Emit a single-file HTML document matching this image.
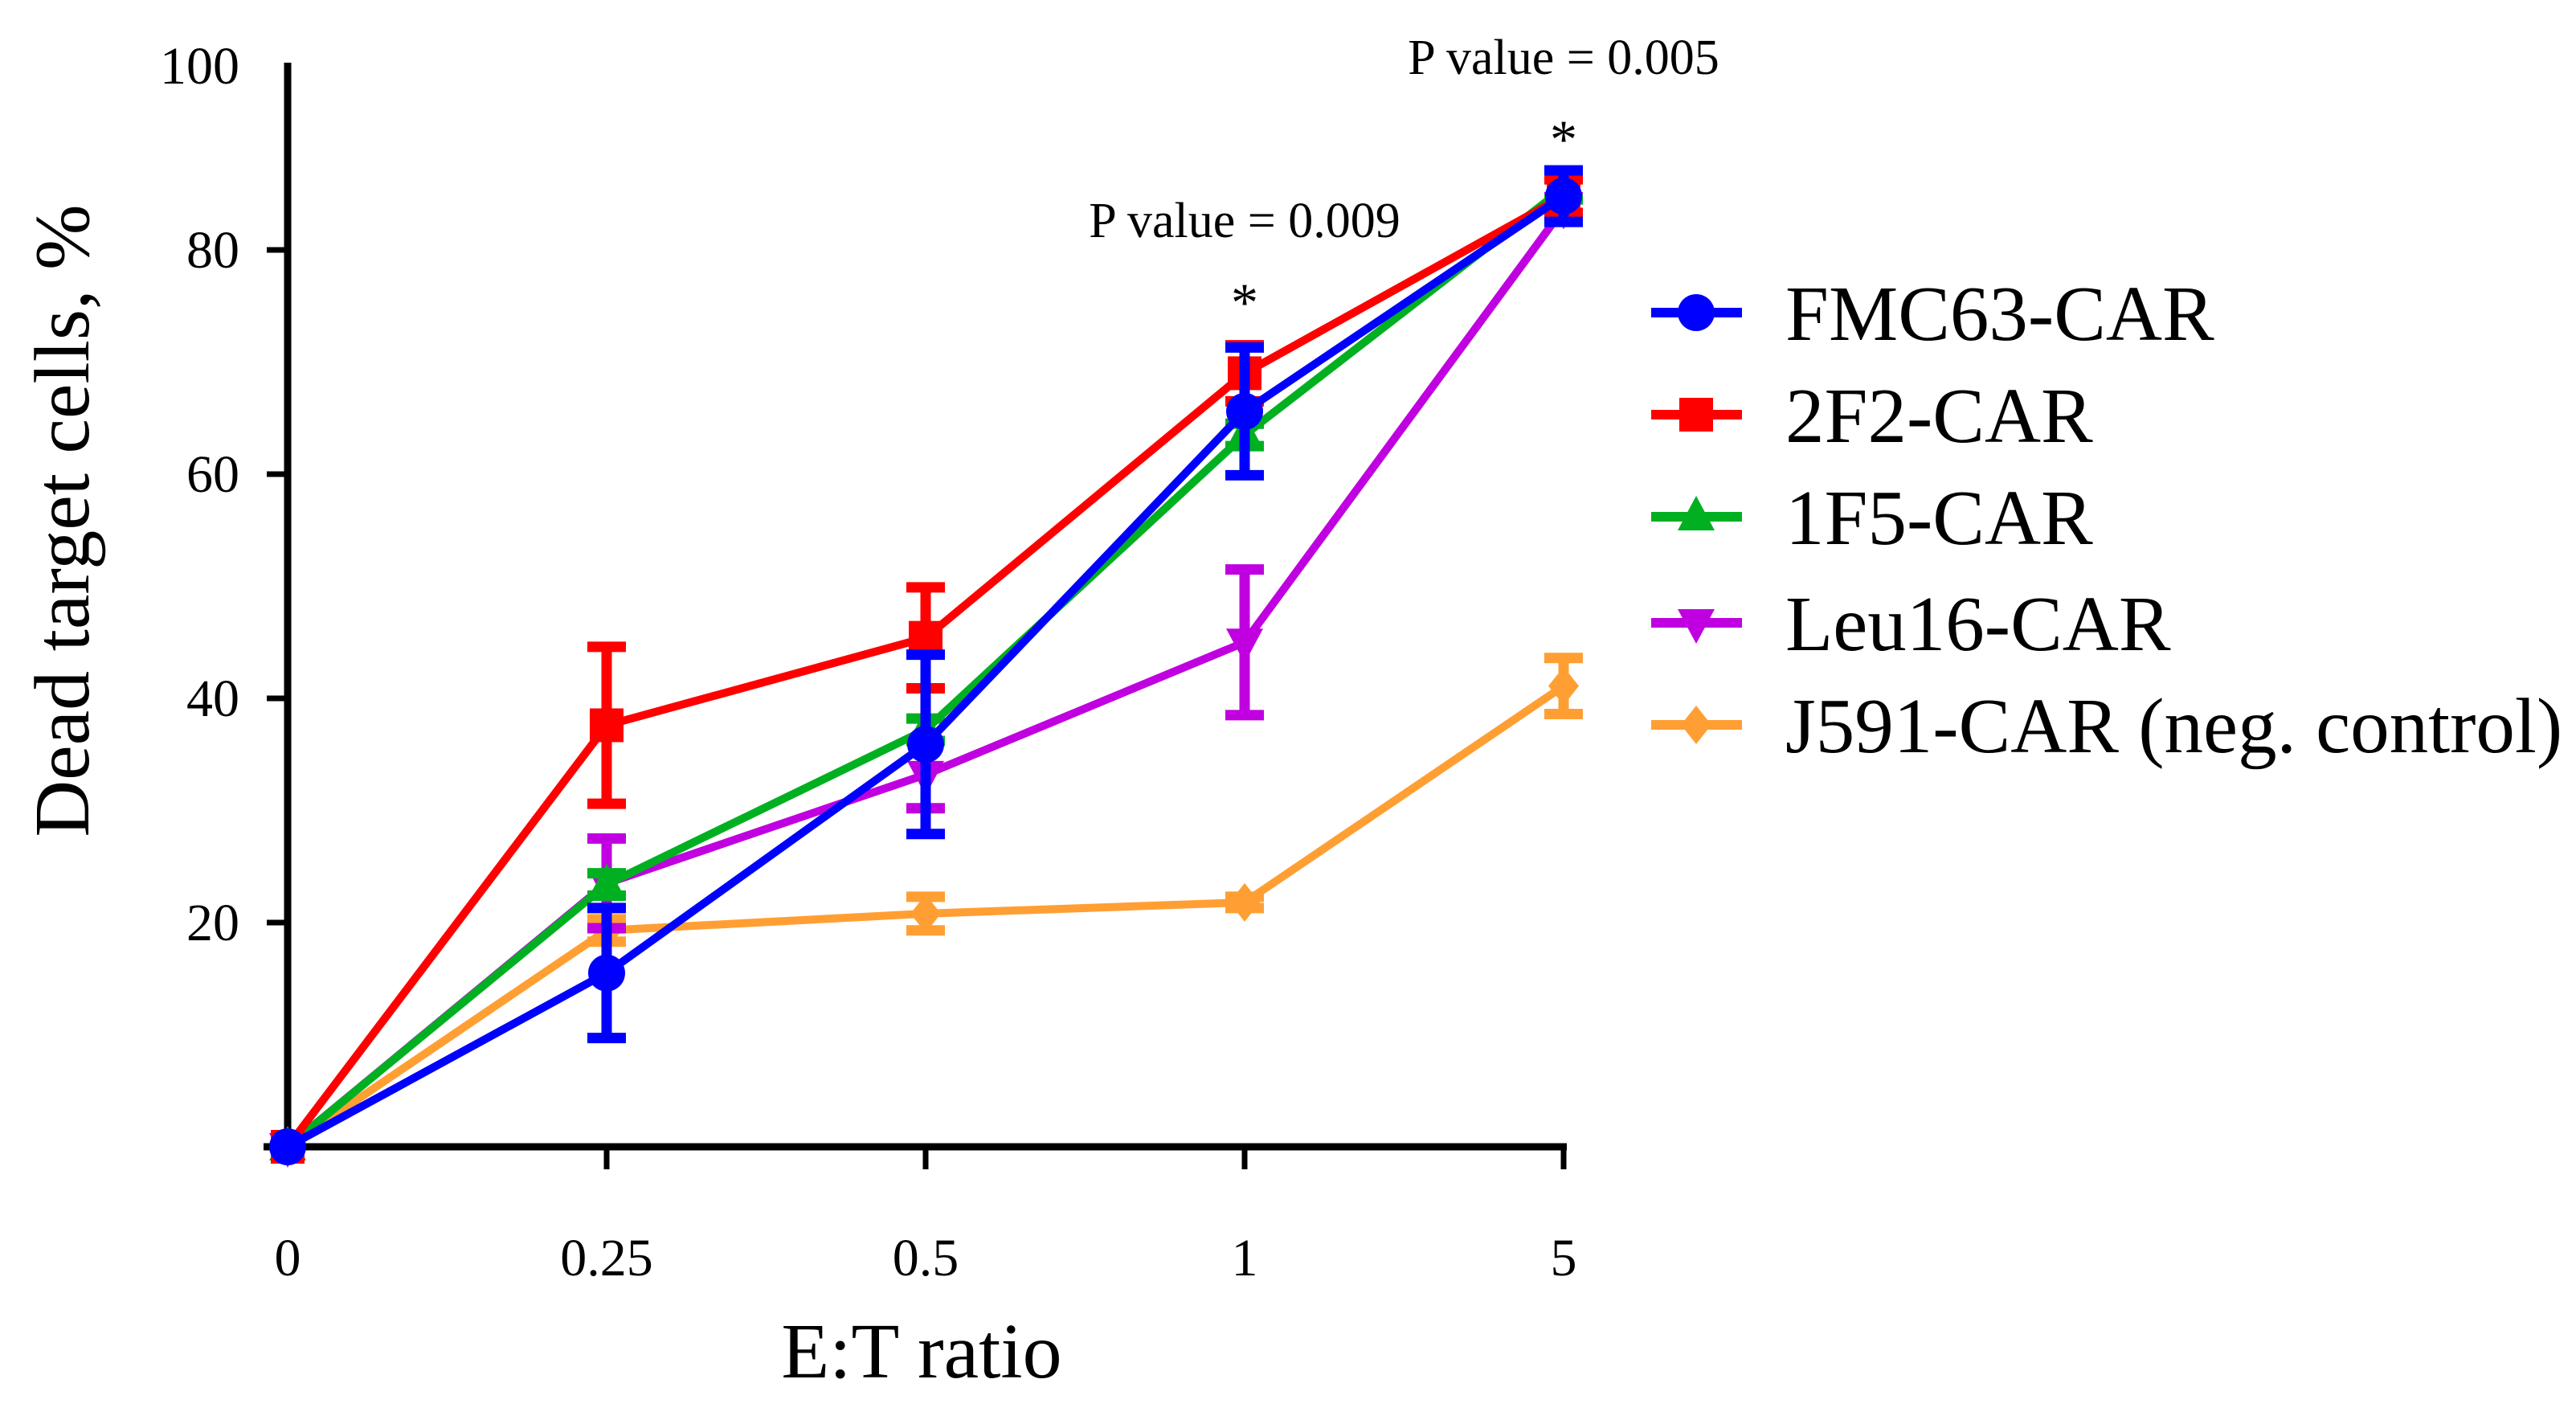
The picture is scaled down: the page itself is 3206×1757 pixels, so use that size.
<!DOCTYPE html>
<html><head><meta charset="utf-8"><style>
html,body{margin:0;padding:0;background:#fff}
svg{display:block;font-family:"Liberation Serif",serif}
</style></head><body>
<svg id="chart" width="3206" height="1757" viewBox="0 0 3206 1757">
<g id="plot"></g>
</svg>
<script>
const categories = ["0","0.25","0.5","1","5"];
const yTicks = [20,40,60,80];
const seriesNames = ["FMC63-CAR","2F2-CAR","1F5-CAR","Leu16-CAR","J591-CAR (neg. control)"];
const fmc63 = [0,15.5,35.9,65.6,84.8];
const fmc63Err = [0,5.8,8,5.7,2.3];
const f2f2 = [0,37.6,45.4,69,84.8];
const f2f2Err = [0,7,4.5,2.5,1.5];
const f1f5 = [0,23.4,37.2,63.5,85.5];
const f1f5Err = [0,1,1,1,1];
const leu16 = [0,23.5,33.2,45,83.7];
const leu16Err = [0,4,3,6.5,1];
const j591 = [0,19.3,20.8,21.8,41.1];
const j591Err = [0,1,1.5,0.5,2.5];

const NS="http://www.w3.org/2000/svg";
const svg=document.getElementById('chart');
const X0=358, DX=397, Y0=1427, PU=13.95;
function xs(i){return X0+i*DX;}
function ys(v){return Y0-v*PU;}
function mk(tag,attrs,parent){const e=document.createElementNS(NS,tag);for(const k in attrs)e.setAttribute(k,attrs[k]);(parent||svg).appendChild(e);return e;}

let ax=mk('line',{x1:X0,y1:78,x2:X0,y2:Y0,stroke:'#000','stroke-width':9});


let bx=mk('line',{x1:328,y1:Y0,x2:xs(4)+4,y2:Y0,stroke:'#000','stroke-width':9});


yTicks.forEach(v=>{
  let t=mk('line',{x1:332,y1:ys(v),x2:X0,y2:ys(v),stroke:'#000','stroke-width':7});
  
  
  let l=mk('text',{x:298,y:ys(v)+22,'text-anchor':'end','font-size':66});
  
  
  l.textContent=v;
});
let l100=mk('text',{x:298,y:104,'text-anchor':'end','font-size':66});


l100.textContent='100';
categories.forEach((c,i)=>{
  if(i>0){let t=mk('line',{x1:xs(i),y1:Y0,x2:xs(i),y2:Y0+28,stroke:'#000','stroke-width':7});
  
  }
  let l=mk('text',{x:xs(i),y:1587,'text-anchor':'middle','font-size':66});
  
  
  l.textContent=c;
});
let xt=mk('text',{x:1147,y:1714,'text-anchor':'middle','font-size':98});


xt.textContent='E:T ratio';
let yt=mk('text',{x:0,y:0,'text-anchor':'middle','font-size':98,transform:'translate(110,648) rotate(-90)'});


yt.textContent='Dead target cells, %';

function marker(shape,x,y,color,g){
  let e;
  if(shape==='circle') e=mk('circle',{cx:x,cy:y,r:23,fill:color},g);
  else if(shape==='square') e=mk('rect',{x:x-21,y:y-21,width:42,height:42,fill:color},g);
  else if(shape==='up') e=mk('polygon',{points:`${x},${y-26} ${x+23},${y+17} ${x-23},${y+17}`,fill:color},g);
  else if(shape==='down') e=mk('polygon',{points:`${x},${y+26} ${x+23},${y-17} ${x-23},${y-17}`,fill:color},g);
  else e=mk('polygon',{points:`${x},${y-24} ${x+19},${y} ${x},${y+24} ${x-19},${y}`,fill:color},g);
  return e;
}
const sets=[
 {vals:j591,err:j591Err,color:'#ff9f33',shape:'diamond',name:'series-j591'},
 {vals:leu16,err:leu16Err,color:'#c000e0',shape:'down',name:'series-leu16'},
 {vals:f1f5,err:f1f5Err,color:'#00b020',shape:'up',name:'series-1f5'},
 {vals:f2f2,err:f2f2Err,color:'#ff0000',shape:'square',name:'series-2f2'},
 {vals:fmc63,err:fmc63Err,color:'#0000ff',shape:'circle',name:'series-fmc63'}
];
sets.forEach(s=>{
  const g=mk('g',{});
  
  
  const pts=s.vals.map((v,i)=>xs(i)+','+ys(v)).join(' ');
  let pl=mk('polyline',{points:pts,fill:'none',stroke:s.color,'stroke-width':10,'stroke-linejoin':'round'},g);
  
  
  s.vals.forEach((v,i)=>{
    const e=s.err[i];
    if(e>0){
      const x=xs(i),t=ys(v+e),b=ys(v-e);
      let eb=mk('path',{d:`M${x},${t}V${b}M${x-24},${t}H${x+24}M${x-24},${b}H${x+24}`,stroke:s.color,'stroke-width':13,fill:'none'},g);
      
      
    }
    let m=marker(s.shape,xs(i),ys(v),s.color,g);
    
    
  });
});

[[3,'P value = 0.009',295,373],[4,'P value = 0.005',92,170]].forEach(a=>{
  let p=mk('text',{x:xs(a[0]),y:a[2],'text-anchor':'middle','font-size':62});
  
  
  p.textContent=a[1];
  let st=mk('text',{x:xs(a[0]),y:a[3]+26,'text-anchor':'middle','font-size':68});
  
  
  st.textContent='*';
});

const legShapes=['circle','square','up','down','diamond'];
const legColors=['#0000ff','#ff0000','#00b020','#c000e0','#ff9f33'];
const legY=[389,516,643,775,902];
const lg=mk('g',{});


seriesNames.forEach((n,i)=>{
  const g=mk('g',{},lg);
  
  
  mk('line',{x1:2055,y1:legY[i],x2:2168,y2:legY[i],stroke:legColors[i],'stroke-width':12},g);
  marker(legShapes[i],2111,legY[i],legColors[i],g);
  let t=mk('text',{x:2222,y:legY[i]+34,'font-size':97},g);
  t.textContent=n;
});
</script>
</body></html>
